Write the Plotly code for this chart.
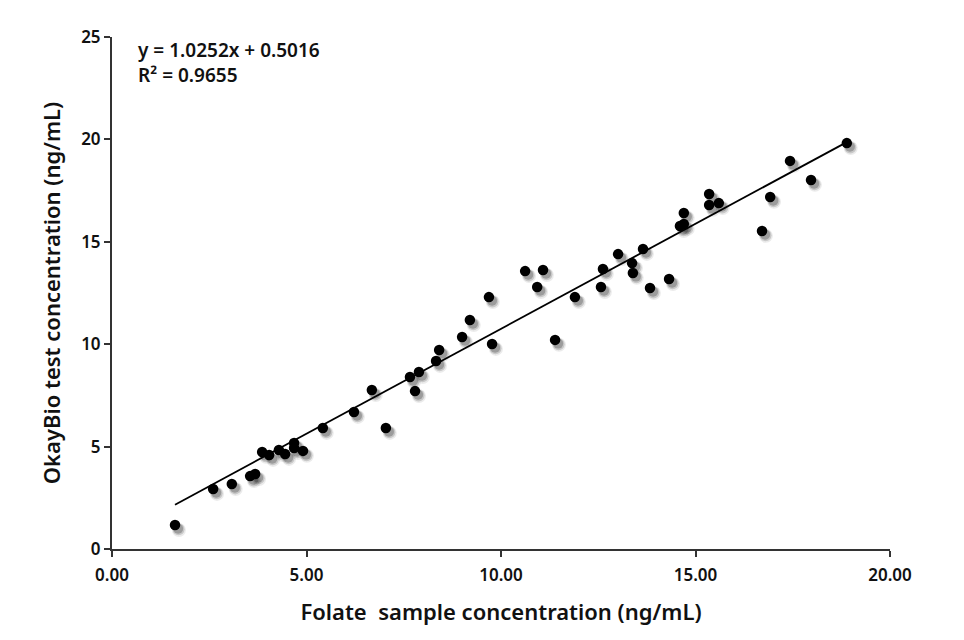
import plotly.graph_objects as go
import numpy as np

folate_x = [1.62, 2.60, 3.08, 3.55, 3.68, 3.86, 4.04, 4.29, 4.45, 4.68, 4.68, 4.91,
            5.42, 6.22, 6.68, 7.04, 7.66, 7.79, 7.89, 8.33, 8.41, 9.00, 9.20, 9.69,
            9.77, 10.62, 10.93, 11.08, 11.39, 11.90, 12.57, 12.62, 13.01, 13.37, 13.39,
            13.65, 13.83, 14.32, 14.60, 14.70, 14.70, 15.35, 15.35, 15.60, 16.71, 16.92,
            17.43, 17.97, 18.89]
okaybio_y = [1.17, 2.93, 3.17, 3.56, 3.66, 4.74, 4.59, 4.83, 4.64, 5.18, 4.93, 4.79,
             5.91, 6.69, 7.76, 5.91, 8.40, 7.71, 8.64, 9.18, 9.72, 10.35, 11.18, 12.30,
             10.01, 13.57, 12.79, 13.62, 10.21, 12.30, 12.79, 13.67, 14.40, 13.96, 13.48,
             14.65, 12.74, 13.18, 15.77, 15.87, 16.41, 17.33, 16.80, 16.89, 15.53, 17.19,
             18.95, 18.02, 19.82]
slope, intercept = 1.0252, 0.5016
x_ticks = [0, 5, 10, 15, 20]
x_ticklabels = ["0.00", "5.00", "10.00", "15.00", "20.00"]
y_ticks = [0, 5, 10, 15, 20, 25]

xa = np.array(folate_x)
ya = np.array(okaybio_y)

fig = go.Figure()
# soft drop shadow
for dx, dy, sz, op in [(0.10, -0.24, 14, 0.08), (0.09, -0.21, 12, 0.15), (0.08, -0.18, 10, 0.22)]:
    fig.add_trace(go.Scatter(x=xa + dx, y=ya + dy, mode="markers",
                             marker=dict(size=sz, color=f"rgba(0,0,0,{op})", line=dict(width=0)),
                             hoverinfo="skip", showlegend=False))

xl = np.array([xa.min(), xa.max()])
fig.add_trace(go.Scatter(x=xl, y=slope * xl + intercept, mode="lines",
                         line=dict(color="black", width=1.8), showlegend=False))
fig.add_trace(go.Scatter(x=xa, y=ya, mode="markers",
                         marker=dict(size=10.5, color="black", line=dict(width=0)),
                         showlegend=False))

font_family = "Noto Sans"
fig.update_layout(
    width=964, height=640,
    margin=dict(l=112, r=74, t=37, b=91),
    paper_bgcolor="white", plot_bgcolor="white",
    font=dict(family=font_family, color="#111"),
    xaxis=dict(range=[0, 20], tickvals=x_ticks, ticktext=x_ticklabels,
               showgrid=False, zeroline=False, showline=True, linecolor="#333", linewidth=2,
               ticks="outside", ticklen=6, tickwidth=1.5, tickcolor="#333", ticklabelstandoff=4,
               tickfont=dict(size=17, family=font_family, weight=600, color="#111"),
               title=dict(text="Folate  sample concentration (ng/mL)",
                          font=dict(size=22, family=font_family, weight=600, color="#111"), standoff=19)),
    yaxis=dict(range=[0, 25], tickvals=y_ticks,
               showgrid=False, zeroline=False, showline=True, linecolor="#333", linewidth=2,
               ticks="outside", ticklen=6, tickwidth=1.5, tickcolor="#333",
               tickfont=dict(size=17, family=font_family, weight=600, color="#111"),
               title=dict(text="OkayBio test concentration (ng/mL)",
                          font=dict(size=22, family=font_family, weight=600, color="#111"), standoff=14)),
    annotations=[dict(text=f"y = {slope:.4f}x + {intercept:.4f}<br>R² = 0.9655",
                      x=0.031, y=1.003, xref="paper", yref="paper", xanchor="left", yanchor="top",
                      align="left", showarrow=False,
                      font=dict(size=19, family=font_family, weight=600, color="#111"))],
)

fig.write_html("out.html")
